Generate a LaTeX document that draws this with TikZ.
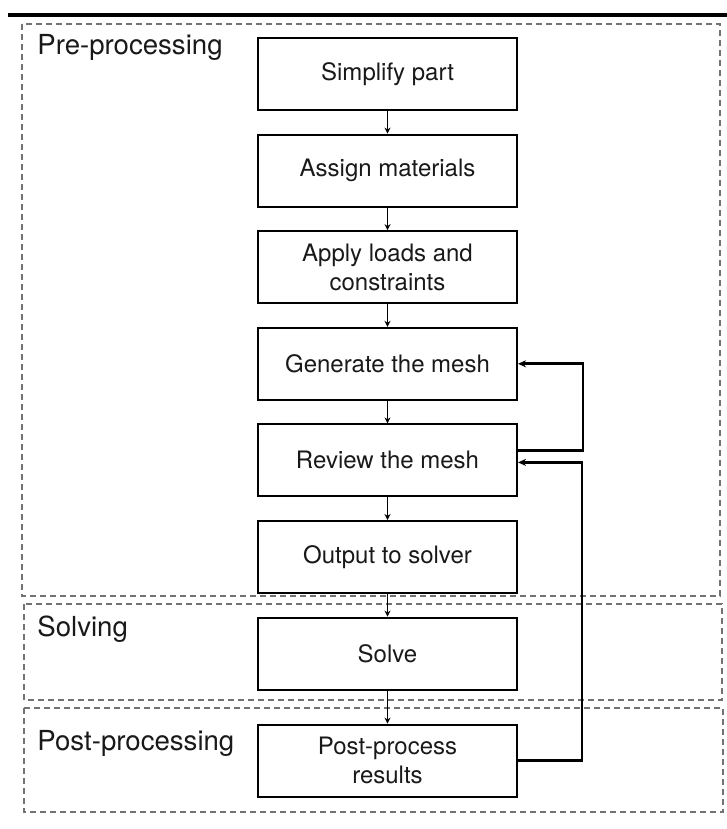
\documentclass[tikz,border=0pt]{standalone}
\usepackage{fontspec}
\setmainfont{TeX Gyre Heros}
\usetikzlibrary{positioning,arrows.meta}

\begin{document}
\begin{tikzpicture}[x=0.5pt,y=-0.5pt,
  node distance=11.3pt,
  stepbox/.style={rectangle,draw,line width=1pt,minimum width=129.5pt,
    minimum height=36pt,align=center,font=\fontsize{12}{14.5}\selectfont,text=black!90},
  phase/.style={draw=black!55,densely dashed,line width=0.7pt},
  phaselabel/.style={anchor=base west,inner sep=0pt,font=\fontsize{13.8}{16}\selectfont,text=black!90},
  flow/.style={-{Stealth[length=3pt,width=3pt]},line width=0.7pt},
  back/.style={-{Stealth[length=4pt,width=3.5pt]},line width=1.4pt}]
\useasboundingbox (0,0) rectangle (727,829);
% heavy rule on top
\draw[line width=2pt] (8,15) -- (727,15);
% phase frames
\draw[phase] (22,24) rectangle (720,596);
\draw[phase] (24,604) rectangle (722,700);
\draw[phase] (24,708) rectangle (723,812);
\node[phaselabel] at (37,55) {Pre-processing};
\node[phaselabel] at (37,636) {Solving};
\node[phaselabel] at (37,750) {Post-processing};
% the steps
\node[stepbox] (simplify) at (387.5,74) {Simplify part};
\node[stepbox,below=of simplify] (assign) {Assign materials};
\node[stepbox,below=of assign] (loads) {Apply loads and\\constraints};
\node[stepbox,below=of loads] (generate) {Generate the mesh};
\node[stepbox,below=of generate] (review) {Review the mesh};
\node[stepbox,below=of review] (output) {Output to solver};
\node[stepbox,below=of output] (solve) {Solve};
\node[stepbox,below=16.5pt of solve] (post) {Post-process\\results};
\foreach \a/\b in {simplify/assign,assign/loads,loads/generate,generate/review,
  review/output,output/solve,solve/post}
  \draw[flow] (\a) -- (\b);
% feedback loops
\draw[back] ([yshift=5pt]review.east) -- ++(32.5pt,0) |- (generate.east);
\draw[back] (post.east) -- ++(32pt,0) |- ([yshift=-1pt]review.east);
\end{tikzpicture}
\end{document}
